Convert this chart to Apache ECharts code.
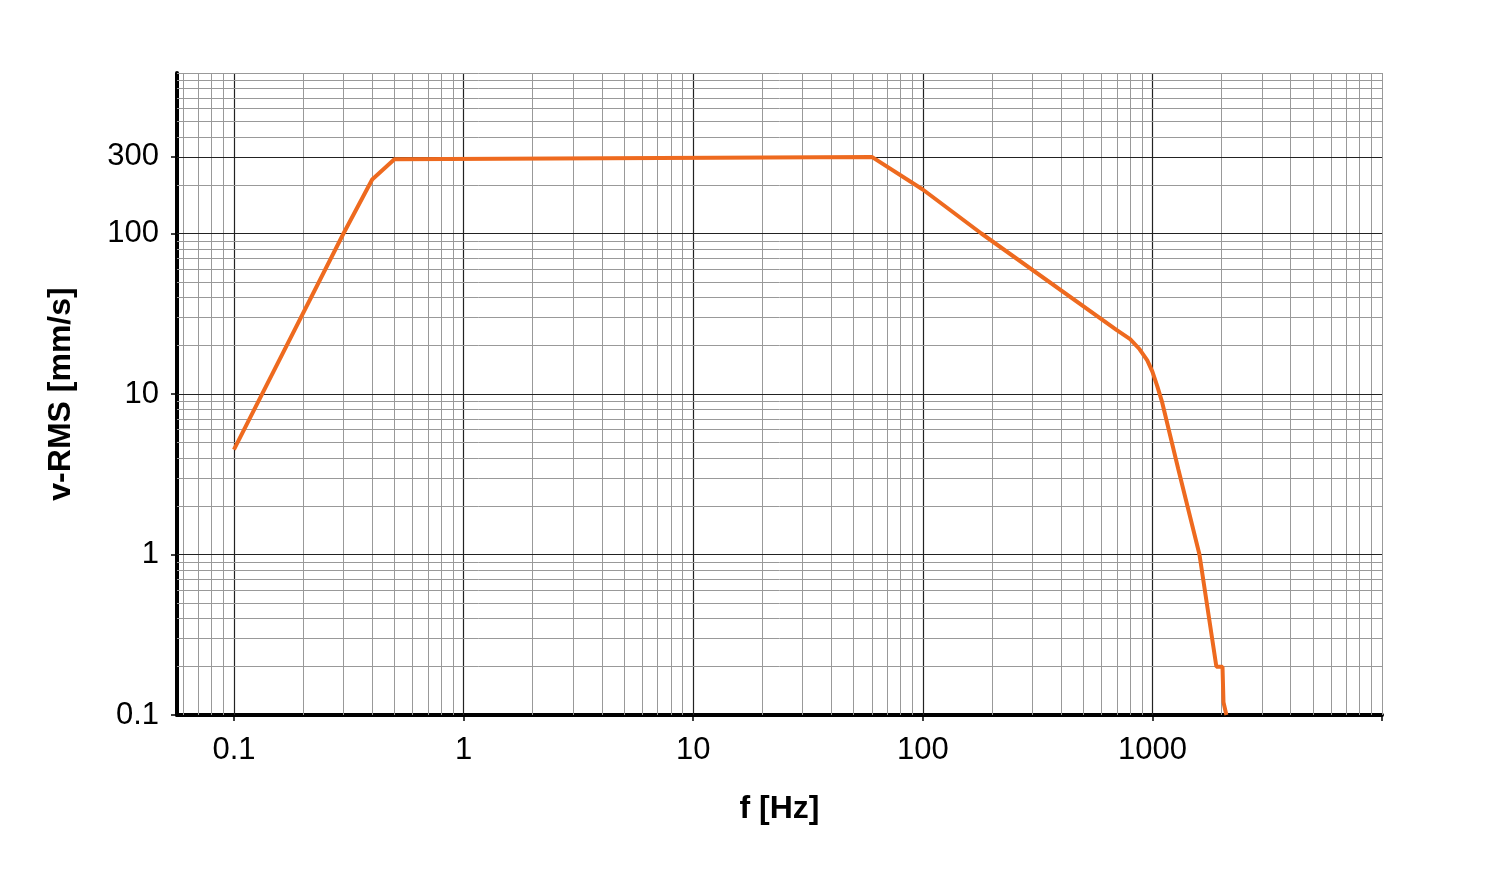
<!DOCTYPE html>
<html><head><meta charset="utf-8">
<script src="https://cdn.jsdelivr.net/npm/echarts@6/dist/echarts.min.js"></script>
<style>html,body{margin:0;padding:0;background:#fff}#c{width:1500px;height:879px}</style>
</head><body><div id="c"></div>
<script>
const freq = [0.1, 0.3, 0.4, 0.5, 60, 100, 180, 700, 800, 880, 950, 1000, 1050, 1100, 1297, 1603, 1900, 2020, 2040, 2100];
const vrms = [4.5, 100, 217, 290, 300, 188, 100, 25, 22, 19, 16.2, 13.8, 11.2, 9.0, 3.4, 1.0, 0.2, 0.2, 0.12, 0.1];
const xTickLabels = [0.1, 1, 10, 100, 1000];
const yTickLabels = [0.1, 1, 10, 100, 300];
const xMin = 0.0565, xMax = 10000, yMin = 0.1, yMax = 1000;

const gridLines = [];
const minor = {color:'#999', width:1, type:'solid'};
const major = {color:'#222', width:1.2, type:'solid'};
for (let n=-2;n<=4;n++) for (let k=1;k<=9;k++){
  const v = k*Math.pow(10,n);
  if (v> xMin && v < xMax) gridLines.push({xAxis:v, lineStyle: k===1?major:minor});
}
for (let n=-1;n<=2;n++) for (let k=1;k<=9;k++){
  const v = +(k*Math.pow(10,n)).toPrecision(3);
  if (v> yMin && v < yMax) gridLines.push({yAxis:v, lineStyle: (k===1||v===300)?major:minor});
}
gridLines.push({xAxis:xMax, lineStyle:{color:'#999',width:1,type:'solid'}});
gridLines.push({yAxis:yMax, lineStyle:{color:'#999',width:1,type:'solid'}});

const chart = echarts.init(document.getElementById('c'));
chart.setOption({
  animation:false,
  grid:{left:177,right:118,top:73,bottom:164},
  xAxis:{type:'log',logBase:10,min:xMin,max:xMax,
    name:'f [Hz]',nameLocation:'middle',nameGap:78,
    nameTextStyle:{fontFamily:'Liberation Sans',fontWeight:'bold',fontSize:32,color:'#000'},
    axisLine:{lineStyle:{color:'#000',width:4}},
    axisTick:{customValues:[0.1,1,10,100,1000,10000],length:6,lineStyle:{color:'#000',width:1.5}},
    axisLabel:{customValues:xTickLabels,fontFamily:'Liberation Sans',fontSize:31,color:'#000',margin:20,formatter:v=>String(v)},
    splitLine:{show:false},minorTick:{show:false}},
  yAxis:{type:'log',logBase:10,min:yMin,max:yMax,
    name:'v-RMS [mm/s]',nameLocation:'middle',nameGap:100,nameRotate:90,
    nameTextStyle:{fontFamily:'Liberation Sans',fontWeight:'bold',fontSize:32,color:'#000'},
    axisLine:{lineStyle:{color:'#000',width:4}},
    axisTick:{customValues:yTickLabels,length:6,lineStyle:{color:'#000',width:1.5}},
    axisLabel:{customValues:yTickLabels,fontFamily:'Liberation Sans',fontSize:31,color:'#000',margin:18,formatter:v=>String(v)},
    splitLine:{show:false}},
  series:[
    {type:'line',data:[],z:1,silent:true,
     markLine:{silent:true,symbol:'none',label:{show:false},animation:false,data:gridLines}},
    {type:'line',z:5,data:freq.map((f,i)=>[f,vrms[i]]),showSymbol:false,
     lineStyle:{color:'#EE6A1F',width:4},itemStyle:{color:'#EE6A1F'}}
  ]
});
</script></body></html>
